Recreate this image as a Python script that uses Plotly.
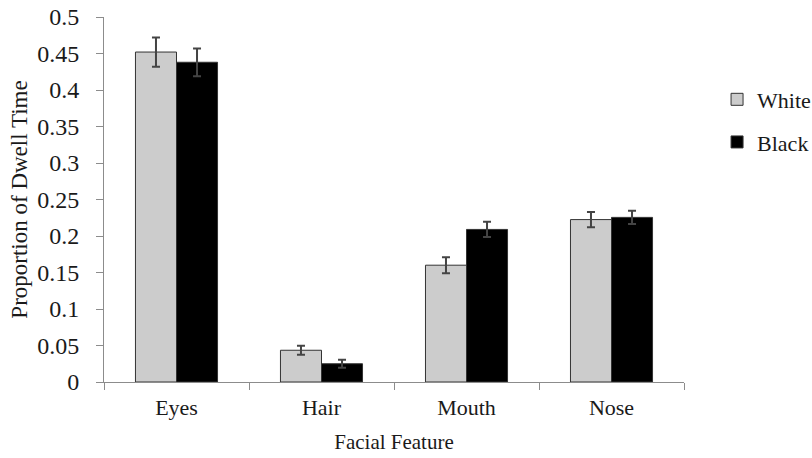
import plotly.graph_objects as go

features = ["Eyes", "Hair", "Mouth", "Nose"]
white_vals = [0.452, 0.0435, 0.160, 0.2225]
white_err = [0.020, 0.006, 0.011, 0.0105]
black_vals = [0.438, 0.025, 0.209, 0.2255]
black_err = [0.019, 0.0055, 0.0105, 0.009]
y_ticks = [0, 0.05, 0.1, 0.15, 0.2, 0.25, 0.3, 0.35, 0.4, 0.45, 0.5]
y_labels = ["0", "0.05", "0.1", "0.15", "0.2", "0.25", "0.3", "0.35", "0.4", "0.45", "0.5"]

font_family = "Times New Roman"
err_style = dict(type="data", thickness=2, width=4, color="#444444")

fig = go.Figure()
fig.add_trace(go.Bar(
    name="White", x=features, y=white_vals, legendgroup="white",
    error_y=dict(array=white_err, **err_style),
    marker=dict(color="#cccccc", line=dict(color="#333333", width=1)),
))
fig.add_trace(go.Bar(
    name="Black", x=features, y=black_vals, legendgroup="black",
    error_y=dict(array=black_err, **err_style),
    marker=dict(color="#000000", line=dict(color="#333333", width=1)),
))

fig.update_layout(
    width=812, height=458,
    margin=dict(l=104, r=128, t=17, b=76, autoexpand=False),
    paper_bgcolor="white", plot_bgcolor="white",
    barmode="group", bargap=0.434, bargroupgap=0,
    font=dict(family=font_family, size=22, color="#1a1a1a"),
    showlegend=True,
    legend=dict(
        x=1.057, y=0.715, xanchor="left", yanchor="middle",
        font=dict(size=22, family=font_family), tracegroupgap=11,
        itemwidth=30, bgcolor="rgba(0,0,0,0)",
    ),
    xaxis=dict(
        title=dict(text="Facial Feature", font=dict(size=21), standoff=14),
        showline=True, linecolor="#8c8c8c", linewidth=1,
        ticks="outside", tickson="boundaries", ticklen=7, tickcolor="#8c8c8c",
        tickfont=dict(size=22), showgrid=False, ticklabelstandoff=6,
    ),
    yaxis=dict(
        title=dict(text="Proportion of Dwell Time", font=dict(size=23), standoff=3),
        range=[0, 0.5], tickvals=y_ticks, ticktext=y_labels,
        showline=True, linecolor="#8c8c8c", linewidth=1,
        ticks="outside", ticklen=7, tickcolor="#8c8c8c",
        tickfont=dict(size=24), showgrid=False, zeroline=False,
        ticklabelstandoff=12,
    ),
)

fig.write_html("out.html")
